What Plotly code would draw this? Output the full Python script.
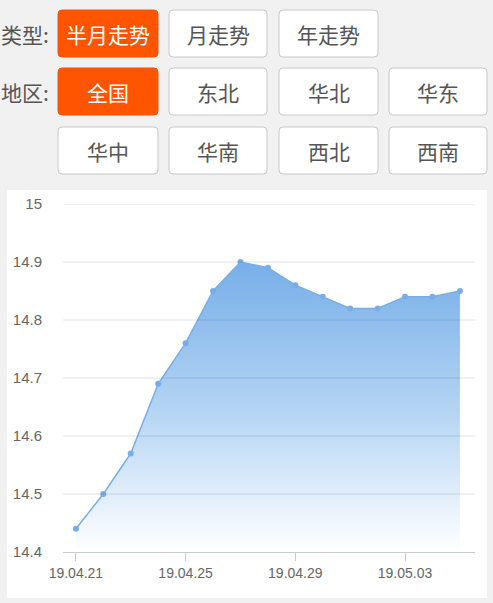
import plotly.graph_objects as go

W, H = 493, 603

dates = ["19.04.21", "19.04.22", "19.04.23", "19.04.24", "19.04.25", "19.04.26", "19.04.27",
         "19.04.28", "19.04.29", "19.04.30", "19.05.01", "19.05.02", "19.05.03", "19.05.04", "19.05.05"]
prices = [14.44, 14.50, 14.57, 14.69, 14.76, 14.85, 14.90, 14.89, 14.86, 14.84, 14.82, 14.82, 14.84, 14.84, 14.85]
tick_dates = ["19.04.21", "19.04.25", "19.04.29", "19.05.03"]
y_ticks = [14.4, 14.5, 14.6, 14.7, 14.8, 14.9, 15]

type_label = "类型:"
type_buttons = ["半月走势", "月走势", "年走势"]
region_label = "地区:"
region_buttons = ["全国", "东北", "华北", "华东", "华中", "华南", "西北", "西南"]

FONT = "Noto Sans CJK SC"
NUMFONT = "Liberation Sans"
ORANGE = "#ff5400"
BLUE = "#78aee8"

def px(x):
    return x / W

def py(y):
    return 1 - y / H

def rrect(x0, y0, x1, y1, r=4):
    rx, ry = r / W, r / H
    X0, X1 = px(x0), px(x1)
    Y0, Y1 = py(y0), py(y1)  # Y0 top (larger), Y1 bottom
    return (f"M {X0+rx},{Y0} L {X1-rx},{Y0} Q {X1},{Y0} {X1},{Y0-ry} "
            f"L {X1},{Y1+ry} Q {X1},{Y1} {X1-rx},{Y1} L {X0+rx},{Y1} "
            f"Q {X0},{Y1} {X0},{Y1+ry} L {X0},{Y0-ry} Q {X0},{Y0} {X0+rx},{Y0} Z")

fig = go.Figure()

base = [y_ticks[0]] * len(dates)
fig.add_trace(go.Scatter(x=dates, y=base, mode="lines", line=dict(width=0),
                         hoverinfo="skip", showlegend=False))
fig.add_trace(go.Scatter(
    x=dates, y=prices, mode="lines+markers", fill="tonexty",
    line=dict(color=BLUE, width=1.5),
    marker=dict(color=BLUE, size=6),
    fillgradient=dict(type="vertical", start=14.4, stop=14.9,
                      colorscale=[[0, "rgba(255,255,255,1)"], [0.5, "rgba(178,211,243,1)"],
                                  [1, "rgba(120,174,232,1)"]]),
    hoverinfo="skip", showlegend=False))

shapes = []
annotations = []
# white card
shapes.append(dict(type="rect", xref="paper", yref="paper", x0=px(7), x1=px(487),
                   y0=py(598), y1=py(190), fillcolor="white", line=dict(width=0), layer="below"))

# gridlines drawn above the fill (visible through the area as in the reference)
for v in y_ticks[1:]:
    shapes.append(dict(type="line", xref="paper", yref="y", x0=px(63), x1=px(475), y0=v, y1=v,
                       line=dict(color="rgba(0,0,0,0.11)", width=1), layer="above"))

col_x = [(58, 158), (169, 267), (279, 378), (389, 487)]
rows_y = [(10, 57), (68, 115), (127, 174)]

def button(text, col, row, active):
    x0, x1 = col_x[col]
    y0, y1 = rows_y[row]
    shapes.append(dict(type="path", xref="paper", yref="paper", path=rrect(x0, y0, x1, y1),
                       fillcolor=ORANGE if active else "white",
                       line=dict(color=ORANGE if active else "#c8c8c8", width=1), layer="below"))
    annotations.append(dict(text=text, x=px((x0 + x1) / 2), y=py((y0 + y1) / 2), xref="paper", yref="paper",
                            showarrow=False, xanchor="center", yanchor="middle",
                            font=dict(family=FONT, size=21, color="white" if active else "#555555")))

for i, t in enumerate(type_buttons):
    button(t, i, 0, i == 0)
for i, t in enumerate(region_buttons):
    button(t, i % 4, 1 + i // 4, i == 0)

for lab, row in [(type_label, 0), (region_label, 1)]:
    y0, y1 = rows_y[row]
    annotations.append(dict(text=lab, x=px(51), y=py((y0 + y1) / 2), xref="paper", yref="paper",
                            showarrow=False, xanchor="right", yanchor="middle",
                            font=dict(family=FONT, size=21, color="#555555")))

fig.update_layout(
    width=W, height=H,
    margin=dict(l=0, r=0, t=0, b=0),
    paper_bgcolor="#f1f1f1",
    plot_bgcolor="rgba(0,0,0,0)",
    shapes=shapes, annotations=annotations,
    showlegend=False,
    font=dict(family=NUMFONT, color="#666666"),
    xaxis=dict(domain=[px(63), px(475)], type="category", range=[-0.47, 14.55], automargin=False,
               tickmode="array", tickvals=tick_dates, ticktext=tick_dates,
               showgrid=False, showline=True, linecolor="#cccccc", linewidth=1,
               ticks="outside", ticklen=8, tickcolor="#cccccc", layer="above traces",
               tickfont=dict(size=14, color="#666666"), zeroline=False, fixedrange=True),
    yaxis=dict(domain=[py(552), py(204)], range=[14.4, 15], automargin=False,
               tickmode="array", tickvals=y_ticks,
               ticktext=[("%g" % v) for v in y_ticks],
               showgrid=False, zeroline=False,
               showline=False, ticks="", ticklabelstandoff=20,
               tickfont=dict(size=15, color="#666666"), fixedrange=True),
)

fig.write_html("out.html", config={"displayModeBar": False},
               post_script="document.body.style.margin='0';document.body.style.overflow='hidden';")
